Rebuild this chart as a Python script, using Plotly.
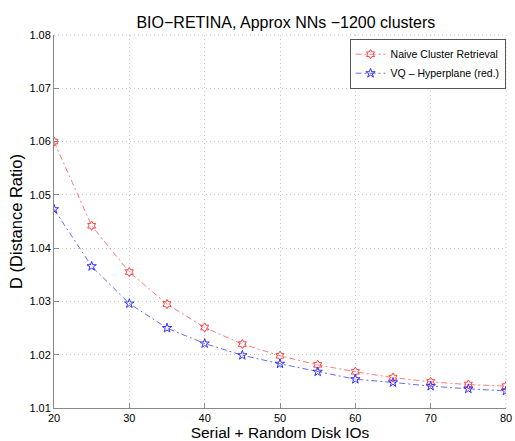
import plotly.graph_objects as go

# Disk IO budgets and the resulting distance ratios for each retrieval scheme
disk_ios = [20, 25, 30, 35, 40, 45, 50, 55, 60, 65, 70, 75, 80]
naive_cluster = [1.0600, 1.0442, 1.0355, 1.0295, 1.0251, 1.0220, 1.0198,
                 1.0181, 1.0168, 1.0157, 1.0149, 1.0144, 1.0141]
vq_hyperplane = [1.0473, 1.0366, 1.0296, 1.0250, 1.0221, 1.0199, 1.0183,
                 1.0168, 1.0154, 1.0148, 1.0141, 1.0136, 1.0132]

x_ticks = [20, 30, 40, 50, 60, 70, 80]
y_ticks = [1.01, 1.02, 1.03, 1.04, 1.05, 1.06, 1.07, 1.08]

FONT = "Liberation Sans, Arial, Helvetica, sans-serif"
GRID = "#c4c4c4"
GRID_DASH = "1px,3px"

fig = go.Figure()
fig.add_trace(go.Scatter(
    x=disk_ios, y=naive_cluster, name="Naive Cluster Retrieval",
    mode="lines+markers",
    line=dict(color="#ff7a7a", width=1, dash="6px,3px,2px,3px"),
    marker=dict(symbol="hexagram-open", size=7, color="#ff4040",
                line=dict(width=1, color="#ff4040")),
))
fig.add_trace(go.Scatter(
    x=disk_ios, y=vq_hyperplane, name="VQ \u2013 Hyperplane (red.)",
    mode="lines+markers",
    line=dict(color="#6a6aff", width=1, dash="6px,3px,2px,3px"),
    marker=dict(symbol="star-open", size=7, color="#3030ff",
                line=dict(width=1, color="#3030ff")),
))

axis_common = dict(
    showgrid=True, gridcolor=GRID, griddash=GRID_DASH, gridwidth=1,
    showline=True, linecolor="#888888", linewidth=1,
    ticks="inside", ticklen=5, tickcolor="#888888",
    tickfont=dict(family=FONT, size=11, color="black"),
    zeroline=False, mirror=False,
)

# dotted frame lines along the top and right edges of the plot area
fig.add_shape(type="line", xref="paper", yref="paper", x0=0, x1=1, y0=1, y1=1,
              line=dict(color=GRID, width=1, dash=GRID_DASH), layer="below")
fig.add_shape(type="line", xref="paper", yref="paper", x0=1, x1=1, y0=0, y1=1,
              line=dict(color=GRID, width=1, dash=GRID_DASH), layer="below")

fig.update_layout(
    width=515, height=441,
    margin=dict(l=54, r=3, t=35, b=33),
    paper_bgcolor="white", plot_bgcolor="white",
    font=dict(family=FONT, color="black"),
    title=dict(text="BIO\u2212RETINA, Approx NNs \u22121200 clusters",
               x=0.555, xanchor="center", y=0.95, yanchor="middle",
               font=dict(family=FONT, size=16, color="black")),
    xaxis=dict(range=[20, 80], tickvals=x_ticks, ticklabeloverflow="allow",
               title=dict(text="Serial + Random Disk IOs", standoff=1,
                          font=dict(family=FONT, size=15.5)),
               **axis_common),
    yaxis=dict(range=[1.01, 1.08], tickvals=y_ticks, tickformat=".2f",
               title=dict(text="D (Distance Ratio)", standoff=2,
                          font=dict(family=FONT, size=16.5)),
               **axis_common),
    legend=dict(x=0.999, y=0.99, xanchor="right", yanchor="top",
                bgcolor="white", bordercolor="#555555", borderwidth=1,
                font=dict(family=FONT, size=10.5, color="black"),
                tracegroupgap=0, itemwidth=30),
    showlegend=True,
)

fig.write_html("out.html")
